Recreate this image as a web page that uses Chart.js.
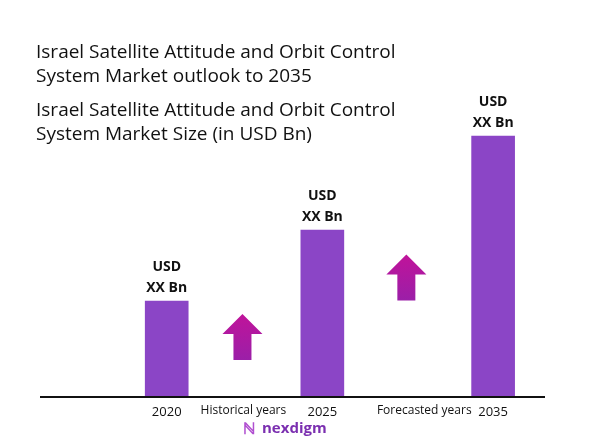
<!DOCTYPE html>
<html><head><meta charset="utf-8">
<script src="https://cdn.jsdelivr.net/npm/chart.js@4/dist/chart.umd.min.js"></script>
<style>html,body{margin:0;padding:0;background:#fff}#c{display:block}</style>
</head><body>
<canvas id="c" width="597" height="441"></canvas>
<script>
const categories = ["2020", "2025", "2035"];
const values = [2.64, 4.61, 7.22];
const barLabels = ["USD|XX Bn", "USD|XX Bn", "USD|XX Bn"];
const positions = [2.26, 5.65, 9.37];
const periodLabels = ["Historical years", "Forecasted years"];
const periodPositions = [3.93, 7.87];
const arrowPositions = [[3.91, 1.0], [7.48, 2.65]];

const deco = {
  id: 'deco',
  afterDraw(chart) {
    const ctx = chart.ctx, x = chart.scales.x, y = chart.scales.y, a = chart.chartArea;
    ctx.save();
    ctx.strokeStyle = '#111'; ctx.lineWidth = 2;
    ctx.beginPath(); ctx.moveTo(40, a.bottom + 1); ctx.lineTo(545, a.bottom + 1); ctx.stroke();
    ctx.fillStyle = '#111'; ctx.textAlign = 'center'; ctx.textBaseline = 'middle';
    ctx.font = '13px "Open Sans", sans-serif';
    categories.forEach((c, i) => ctx.fillText(c, x.getPixelForValue(positions[i]), 412));
    ctx.font = '12px "Open Sans", sans-serif';
    periodLabels.forEach((c, i) => ctx.fillText(c, x.getPixelForValue(periodPositions[i]), 411));
    ctx.font = 'bold 14px "Open Sans", sans-serif';
    values.forEach((v, i) => {
      const px = x.getPixelForValue(positions[i]), py = y.getPixelForValue(v);
      const [l1, l2] = barLabels[i].split('|');
      ctx.fillText(l1, px, py - 34); ctx.fillText(l2, px, py - 13);
    });
    arrowPositions.forEach(([ax, ay]) => {
      const cx = x.getPixelForValue(ax), by = y.getPixelForValue(ay);
      const g = ctx.createLinearGradient(cx, by - 46, cx, by);
      g.addColorStop(0, '#c0139a'); g.addColorStop(1, '#9b1fa8');
      ctx.fillStyle = g;
      ctx.beginPath();
      ctx.moveTo(cx, by - 46); ctx.lineTo(cx + 20, by - 26); ctx.lineTo(cx + 9, by - 26);
      ctx.lineTo(cx + 9, by); ctx.lineTo(cx - 9, by); ctx.lineTo(cx - 9, by - 26);
      ctx.lineTo(cx - 20, by - 26); ctx.closePath(); ctx.fill();
    });
    ctx.fillStyle = '#111'; ctx.textAlign = 'left'; ctx.textBaseline = 'alphabetic';
    ctx.font = '19px "Open Sans", sans-serif';
    ctx.fillText('Israel Satellite Attitude and Orbit Control', 36, 58);
    ctx.fillText('System Market outlook to 2035', 36, 82);
    ctx.fillText('Israel Satellite Attitude and Orbit Control', 36, 116);
    ctx.fillText('System Market Size (in USD Bn)', 36, 140);
    ctx.fillStyle = '#7b2fb0'; ctx.font = 'bold 15px "Open Sans", sans-serif';
    ctx.fillText('nexdigm', 262, 433);
    ctx.fillStyle = '#b04fd0'; ctx.font = 'bold 16px "Open Sans", sans-serif';
    ctx.fillText('\u2115', 243, 434);
    ctx.restore();
  }
};

new Chart(document.getElementById('c'), {
  type: 'bar',
  data: { datasets: [{ data: values.map((v, i) => ({ x: positions[i], y: v })),
    backgroundColor: '#8b45c6', barThickness: 43 }] },
  options: {
    responsive: false, animation: false,
    layout: { padding: { left: 40, right: 52, top: 36, bottom: 45 } },
    plugins: { legend: { display: false }, tooltip: { enabled: false } },
    scales: {
      x: { type: 'linear', min: 0, max: 10, display: false },
      y: { min: 0, max: 10, display: false }
    }
  },
  plugins: [deco]
});
</script>
</body></html>
